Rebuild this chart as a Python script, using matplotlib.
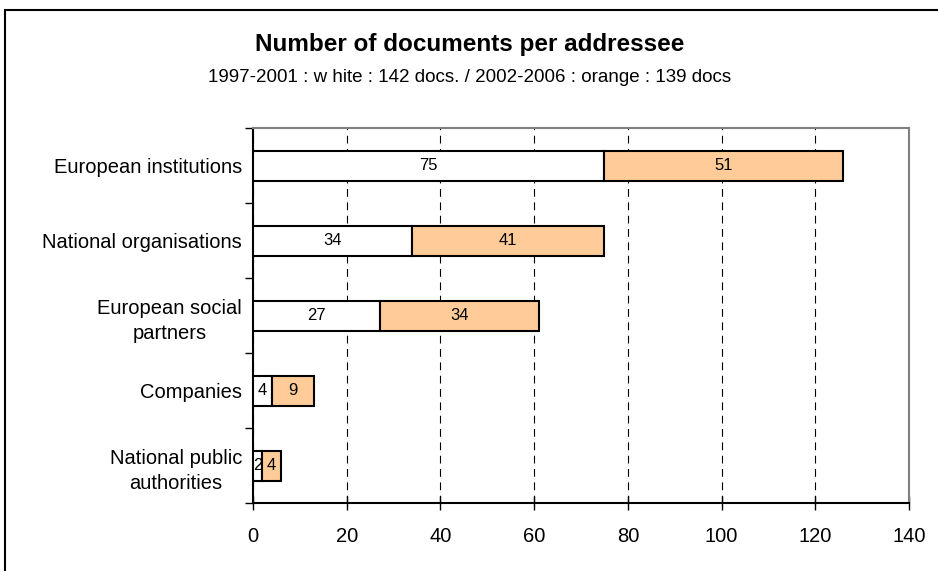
import matplotlib.pyplot as plt
import matplotlib.patches as patches
import numpy as np

plt.rcParams['font.family'] = ['Liberation Sans', 'DejaVu Sans']

categories = ['European institutions', 'National organisations',
              'European social\npartners', 'Companies',
              'National public\nauthorities']
white_1997_2001 = [75, 34, 27, 4, 2]
orange_2002_2006 = [51, 41, 34, 9, 4]
x_ticks = [0, 20, 40, 60, 80, 100, 120, 140]

fig = plt.figure(figsize=(9.38, 5.71), dpi=100)
ax = fig.add_axes([253 / 938, 1 - 503 / 571, (909 - 253) / 938, (503 - 128) / 571])

# outer chart border (only left and top are visible in the crop)
fig.add_artist(patches.Rectangle((5 / 938, -0.2), 1.2, 1 - 10 / 571 + 0.2,
                                 transform=fig.transFigure, fill=False,
                                 edgecolor='black', linewidth=1.5))

y = np.arange(len(categories))
h = 0.4
ax.barh(y, white_1997_2001, height=h, color='white', edgecolor='black',
        linewidth=1.5, zorder=3)
ax.barh(y, orange_2002_2006, left=white_1997_2001, height=h, color='#FFCC99',
        edgecolor='black', linewidth=1.5, zorder=3)

for i in range(len(categories)):
    w = white_1997_2001[i]
    o = orange_2002_2006[i]
    ax.text(w / 2, y[i], str(w), ha='center', va='center', fontsize=12, zorder=4)
    ax.text(w + o / 2, y[i], str(o), ha='center', va='center', fontsize=12, zorder=4)

ax.set_xlim(0, 140)
ax.set_ylim(len(categories) - 0.5, -0.5)
ax.set_xticks(x_ticks)
ax.tick_params(axis='x', direction='inout', length=10, width=1, labelsize=14.5, pad=12)

ax.set_yticks(y)
ax.set_yticklabels(categories, fontsize=14.5, multialignment='center', linespacing=1.45)
ax.set_yticks(np.arange(-0.5, len(categories), 1), minor=True)
ax.tick_params(axis='y', which='major', length=0, pad=8)
ax.tick_params(axis='y', which='minor', direction='out', length=6, width=1)

ax.grid(axis='x', color='black', linestyle=(0, (7, 5)), linewidth=0.8, zorder=0)
ax.set_axisbelow(True)

ax.spines['left'].set_color('black')
ax.spines['bottom'].set_color('black')
ax.spines['left'].set_linewidth(1.5)
ax.spines['bottom'].set_linewidth(1.5)
ax.spines['top'].set_color('#808080')
ax.spines['right'].set_color('#808080')
ax.spines['top'].set_linewidth(1.5)
ax.spines['right'].set_linewidth(1.5)

fig.text(470 / 938, 1 - 44 / 571, 'Number of documents per addressee',
         ha='center', va='center', fontsize=17.5, fontweight='bold')
fig.text(470 / 938, 1 - 77 / 571,
         '1997-2001 : w hite : 142 docs. / 2002-2006 : orange : 139 docs',
         ha='center', va='center', fontsize=13.5)

fig.savefig('out.png', dpi=100)
